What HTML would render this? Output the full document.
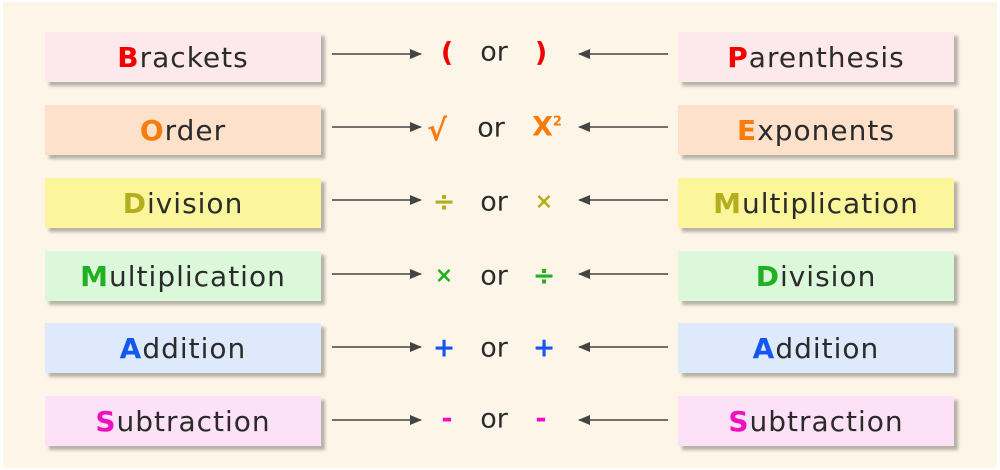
<!DOCTYPE html>
<html><head><meta charset="utf-8"><style>
*{margin:0;padding:0;box-sizing:border-box}
body{width:1000px;height:470px;background:#fff;position:relative;overflow:hidden;font-family:"DejaVu Sans","Liberation Sans",sans-serif}
.bg{position:absolute;left:3px;top:2px;width:994px;height:466px;background:#fdf6e8}
.box{position:absolute;width:276px;height:50px;box-shadow:4px 4px 3px rgba(0,0,0,0.28);font-size:28px;color:#2b2b2b;display:flex;align-items:center;justify-content:center;letter-spacing:1px}
.box b{font-weight:bold}
.sym{position:absolute;width:40px;text-align:center;font-weight:bold;font-size:27px;transform:translate(-50%,-50%)}
.or{position:absolute;font-size:27px;color:#2b2b2b;transform:translate(-50%,-50%)}
svg{position:absolute;left:0;top:0}
</style></head><body>
<div class="bg"></div>
<svg width="1000" height="470">
<defs><marker id="a" markerWidth="12" markerHeight="10" refX="11" refY="5" orient="auto" markerUnits="userSpaceOnUse"><path d="M0,0 L12,5 L0,10 Z" fill="#444"/></marker></defs>
<g stroke="#444" stroke-width="1.6" marker-end="url(#a)">
<line x1="332" y1="54" x2="421" y2="54"/><line x1="668" y1="54" x2="579" y2="54"/>
<line x1="332" y1="127" x2="421" y2="127"/><line x1="668" y1="127" x2="579" y2="127"/>
<line x1="332" y1="200" x2="421" y2="200"/><line x1="668" y1="200" x2="579" y2="200"/>
<line x1="332" y1="274" x2="421" y2="274"/><line x1="668" y1="274" x2="579" y2="274"/>
<line x1="332" y1="347" x2="421" y2="347"/><line x1="668" y1="347" x2="579" y2="347"/>
<line x1="332" y1="420" x2="421" y2="420"/><line x1="668" y1="420" x2="579" y2="420"/>
</g></svg>

<div class="box" style="left:45px;top:32px;background:#fde9eb"><b style="color:#f00000">B</b>rackets</div>
<div class="box" style="left:678px;top:32px;background:#fde9eb"><b style="color:#f00000">P</b>arenthesis</div>
<div class="box" style="left:45px;top:105px;background:#fde1cb"><b style="color:#f77c0c">O</b>rder</div>
<div class="box" style="left:678px;top:105px;background:#fde1cb"><b style="color:#f77c0c">E</b>xponents</div>
<div class="box" style="left:45px;top:178px;background:#fbf59c"><b style="color:#b3ad20">D</b>ivision</div>
<div class="box" style="left:678px;top:178px;background:#fbf59c"><b style="color:#b3ad20">M</b>ultiplication</div>
<div class="box" style="left:45px;top:251px;background:#dcf8db"><b style="color:#22b022">M</b>ultiplication</div>
<div class="box" style="left:678px;top:251px;background:#dcf8db"><b style="color:#22b022">D</b>ivision</div>
<div class="box" style="left:45px;top:323px;background:#dee9fb"><b style="color:#1456f0">A</b>ddition</div>
<div class="box" style="left:678px;top:323px;background:#dee9fb"><b style="color:#1456f0">A</b>ddition</div>
<div class="box" style="left:45px;top:396px;background:#fde2f7"><b style="color:#f010c0">S</b>ubtraction</div>
<div class="box" style="left:678px;top:396px;background:#fde2f7"><b style="color:#f010c0">S</b>ubtraction</div>

<div class="sym" style="left:447px;top:53px;color:#f00000">(</div>
<div class="or" style="left:494px;top:52px">or</div>
<div class="sym" style="left:541px;top:53px;color:#f00000">)</div>

<div class="sym" style="left:437px;top:131px;color:#f77c0c;font-size:30px">√</div>
<div class="or" style="left:491px;top:128px">or</div>
<div class="sym" style="left:547px;top:127px;color:#f77c0c">X<sup style="font-size:13px">2</sup></div>

<div class="sym" style="left:444px;top:202px;color:#b3ad20">÷</div>
<div class="or" style="left:494px;top:202px">or</div>
<div class="sym" style="left:544px;top:202px;color:#b3ad20;font-size:22px">×</div>

<div class="sym" style="left:444px;top:276px;color:#22b022;font-size:22px">×</div>
<div class="or" style="left:494px;top:276px">or</div>
<div class="sym" style="left:544px;top:276px;color:#22b022">÷</div>

<div class="sym" style="left:444px;top:348px;color:#1456f0">+</div>
<div class="or" style="left:494px;top:348px">or</div>
<div class="sym" style="left:544px;top:348px;color:#1456f0">+</div>

<div class="sym" style="left:447px;top:419px;color:#f010c0">-</div>
<div class="or" style="left:494px;top:419px">or</div>
<div class="sym" style="left:541px;top:419px;color:#f010c0">-</div>
</body></html>
